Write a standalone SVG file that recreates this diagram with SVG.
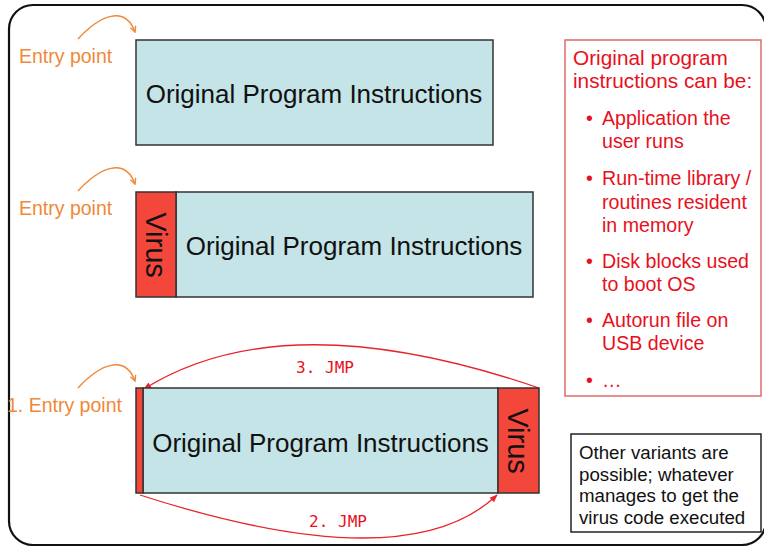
<svg xmlns="http://www.w3.org/2000/svg" width="764" height="547" viewBox="0 0 764 547">
<defs>
<style>
.prog{fill:#c4e4e7;stroke:#333;stroke-width:1.5}
.vir{fill:#f4473b;stroke:#333;stroke-width:1.5}
.big{font-family:"Liberation Sans",Arial,sans-serif;font-size:26px;fill:#111;text-anchor:middle}
.virt{font-family:"Liberation Sans",Arial,sans-serif;font-size:29px;fill:#111;text-anchor:middle}
.entry{font-family:"Liberation Sans",Arial,sans-serif;font-size:19.5px;fill:#f0883a}
.oarr{fill:none;stroke:#f0883a;stroke-width:1.5;marker-end:url(#oh)}
.rarr{fill:none;stroke:#e8232b;stroke-width:1.3;marker-end:url(#rh)}
.jmp{font-family:"DejaVu Sans Mono","Liberation Mono",monospace;font-size:16px;fill:#e8101c;text-anchor:middle}
.rt{font-family:"Liberation Sans",Arial,sans-serif;font-size:20.8px;fill:#e8101c}
.rb{font-family:"Liberation Sans",Arial,sans-serif;font-size:19.6px;fill:#e8101c}
.bt{font-family:"Liberation Sans",Arial,sans-serif;font-size:18.7px;fill:#111}
</style>
<marker id="oh" viewBox="0 0 10 10" refX="9" refY="5" markerWidth="7" markerHeight="7" markerUnits="userSpaceOnUse" orient="auto">
<path d="M1,1 L9,5 L1,9" fill="none" stroke="#f0883a" stroke-width="2"/>
</marker>
<marker id="rh" viewBox="0 0 10 10" refX="9" refY="5" markerWidth="8" markerHeight="8" markerUnits="userSpaceOnUse" orient="auto">
<path d="M0,1 L10,5 L0,9 Z" fill="#e8232b"/>
</marker>
</defs>
<rect x="9" y="5" width="757" height="540" rx="24" fill="#fff" stroke="#111" stroke-width="2.2"/>

<g id="connectors">
<path class="oarr" d="M78,39 C100,15 125,5 135,32"/>
<path class="oarr" d="M78,191 C100,167 125,157 135,184"/>
<path class="oarr" d="M78,388 C100,364 125,354 135,381"/>
<path class="rarr" d="M539,388 Q285,301 144,389"/>
<path class="rarr" d="M140,495 Q407,581 497,495"/>
</g>

<g id="entry1"><text class="entry" x="19" y="63">Entry point</text></g>
<g id="entry2"><text class="entry" x="19" y="215">Entry point</text></g>
<g id="entry3"><text class="entry" x="7" y="412">1. Entry point</text></g>

<g id="box1">
<rect class="prog" x="136" y="40" width="357" height="105"/>
<text class="big" x="314" y="103">Original Program Instructions</text>
</g>

<g id="box2">
<rect class="prog" x="176" y="192" width="357" height="105"/>
<rect class="vir" x="136" y="192" width="40" height="105"/>
<text class="virt" transform="translate(156,245) rotate(90)" y="10.4">Virus</text>
<text class="big" x="354" y="255">Original Program Instructions</text>
</g>

<g id="box3">
<rect class="prog" x="143" y="388" width="355" height="105"/>
<rect class="vir" x="136" y="388" width="7" height="105"/>
<rect class="vir" x="498" y="388" width="41" height="105"/>
<text class="virt" transform="translate(518.5,441) rotate(90)" y="10.4">Virus</text>
<text class="big" x="320.5" y="452">Original Program Instructions</text>
</g>

<g id="jmp3"><text class="jmp" x="325" y="373">3. JMP</text></g>
<g id="jmp2"><text class="jmp" x="338" y="527">2. JMP</text></g>

<g id="notes">
<rect x="565" y="40" width="196" height="356" fill="#fff" stroke="#e06a6a" stroke-width="1.5"/>
<text class="rt" x="573" y="65">Original program</text>
<text class="rt" x="573" y="88">instructions can be:</text>
<text class="rb" x="586" y="125">•</text><text class="rb" x="602" y="125">Application the</text>
<text class="rb" x="602" y="148">user runs</text>
<text class="rb" x="586" y="185">•</text><text class="rb" x="602" y="185">Run-time library /</text>
<text class="rb" x="602" y="209">routines resident</text>
<text class="rb" x="602" y="232">in memory</text>
<text class="rb" x="586" y="268">•</text><text class="rb" x="602" y="268">Disk blocks used</text>
<text class="rb" x="602" y="291">to boot OS</text>
<text class="rb" x="586" y="327">•</text><text class="rb" x="602" y="327">Autorun file on</text>
<text class="rb" x="602" y="350">USB device</text>
<text class="rb" x="586" y="387">•</text><text class="rb" x="602" y="387">…</text>
</g>

<g id="variants">
<rect x="571" y="434" width="190" height="98" fill="#fff" stroke="#222" stroke-width="1.5"/>
<text class="bt" x="579" y="459">Other variants are</text>
<text class="bt" x="579" y="481">possible; whatever</text>
<text class="bt" x="579" y="502">manages to get the</text>
<text class="bt" x="579" y="524">virus code executed</text>
</g>
</svg>
